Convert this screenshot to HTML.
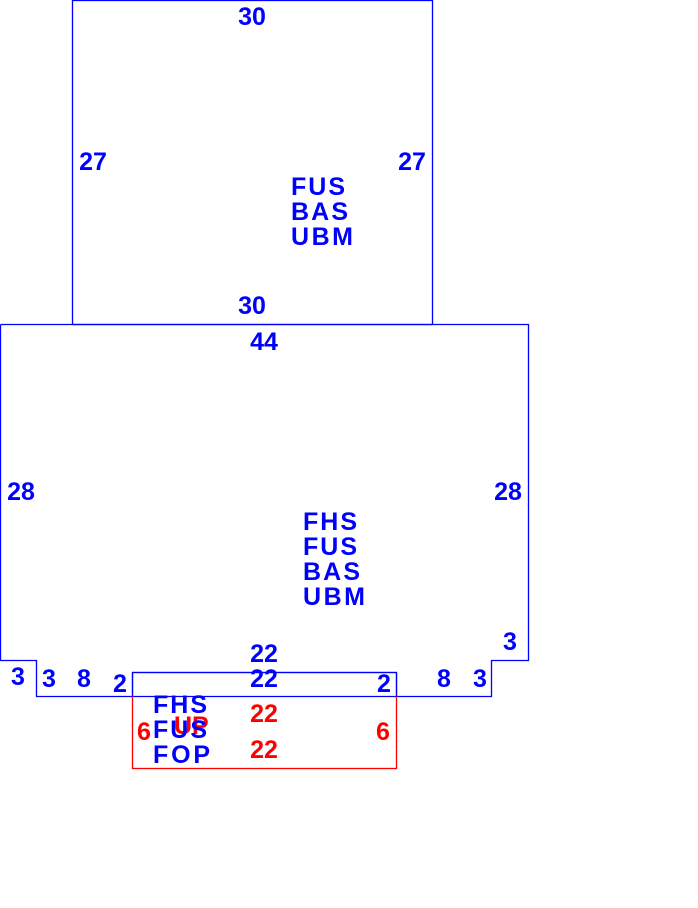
<!DOCTYPE html>
<html><head><style>
html,body{margin:0;padding:0;background:#fff;width:698px;height:908px;overflow:hidden}
text{font-family:"Liberation Sans",Arial,sans-serif;font-weight:bold;font-size:25px}
</style></head><body>
<svg width="698" height="908" xmlns="http://www.w3.org/2000/svg">
<g fill="none" stroke="#0000ff" stroke-width="1.3">
<rect x="72.5" y="0.5" width="360" height="324"/>
<polyline points="0.5,324.5 528.5,324.5 528.5,660.5 491.5,660.5 491.5,696.5 36.5,696.5 36.5,660.5 0.5,660.5 0.5,324.5"/>
</g>
<rect x="132.5" y="672.5" width="264" height="96" fill="none" stroke="#ff0000" stroke-width="1.3"/>
<polyline points="132.5,696.5 132.5,672.5 396.5,672.5 396.5,696.5" fill="none" stroke="#0000ff" stroke-width="1.3"/>
<g fill="#ff0000">
<text x="264" y="722" text-anchor="middle">22</text>
<text x="264" y="758" text-anchor="middle">22</text>
<text x="144" y="740" text-anchor="middle">6</text>
<text x="383" y="740" text-anchor="middle">6</text>
<text x="174" y="734">UP</text>
</g>
<g fill="#0000ff">
<text x="252" y="25" text-anchor="middle">30</text>
<text x="252" y="314" text-anchor="middle">30</text>
<text x="93" y="170" text-anchor="middle">27</text>
<text x="412" y="170" text-anchor="middle">27</text>
<text x="291" y="195" textLength="54">FUS</text>
<text x="291" y="220" textLength="57">BAS</text>
<text x="291" y="245" textLength="62">UBM</text>
<text x="264" y="350" text-anchor="middle">44</text>
<text x="21" y="500" text-anchor="middle">28</text>
<text x="508" y="500" text-anchor="middle">28</text>
<text x="303" y="530" textLength="54">FHS</text>
<text x="303" y="555" textLength="54">FUS</text>
<text x="303" y="580" textLength="57">BAS</text>
<text x="303" y="605" textLength="62">UBM</text>
<text x="264" y="662" text-anchor="middle">22</text>
<text x="264" y="687" text-anchor="middle">22</text>
<text x="510" y="650" text-anchor="middle">3</text>
<text x="18" y="685" text-anchor="middle">3</text>
<text x="49" y="687" text-anchor="middle">3</text>
<text x="84" y="687" text-anchor="middle">8</text>
<text x="120" y="692" text-anchor="middle">2</text>
<text x="384" y="692" text-anchor="middle">2</text>
<text x="444" y="687" text-anchor="middle">8</text>
<text x="480" y="687" text-anchor="middle">3</text>
<text x="153" y="713" textLength="54">FHS</text>
<text x="153" y="738" textLength="54">FUS</text>
<text x="153" y="763" textLength="57">FOP</text>
</g>
</svg>
</body></html>
